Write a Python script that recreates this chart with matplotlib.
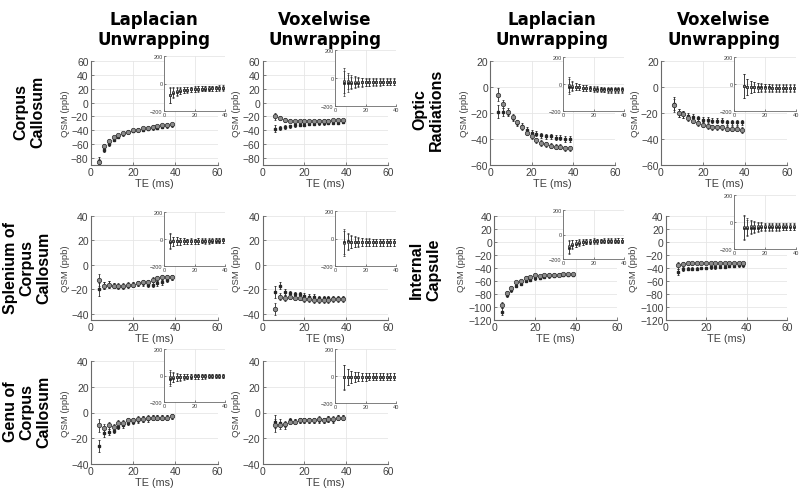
import numpy as np
import matplotlib
matplotlib.use("Agg")
import matplotlib.pyplot as plt

plt.rcParams["font.family"] = ["Liberation Sans", "DejaVu Sans"]

W, H = 800, 489

# ---------------- data ----------------
te_lap = [3.9, 6.2, 8.5, 10.8, 13.1, 15.4, 17.7, 20.0, 22.3, 24.6, 26.9, 29.2, 31.5, 33.8, 36.1, 38.4]
te_vox = te_lap[1:]

cc_lap_a = [-86, -62, -55, -50, -47, -44, -42, -40, -39, -37, -36, -35, -34, -33, -32, -31]
cc_lap_b = [-84, -68, -60, -54, -49, -46, -43, -41, -40, -39, -38, -37, -36, -35, -34, -33]
cc_vox_a = [-20, -22, -25, -26, -27, -27, -27, -27, -27, -26, -26, -26, -25, -25, -25]
cc_vox_b = [-38, -37, -35, -34, -33, -32, -32, -31, -31, -30, -30, -29, -29, -29, -28]

or_lap_a = [-6, -13, -19, -23, -27, -31, -35, -38, -41, -43, -44, -45, -46, -46, -47, -47]
or_lap_b = [-19, -19, -20, -24, -28, -30, -33, -35, -36, -37, -38, -38, -39, -39, -40, -40]
or_vox_a = [-14, -20, -21, -24, -26, -28, -29, -30, -31, -31, -31, -32, -32, -32, -33]
or_vox_b = [-13, -20, -21, -22, -23, -24, -25, -25, -26, -26, -26, -27, -27, -27, -27]

sp_lap_a = [-12, -17, -16, -17, -17, -17, -16, -16, -15, -14, -14, -12, -11, -10, -10, -10]
sp_lap_b = [-20, -17, -16, -17, -18, -18, -17, -16, -15, -15, -16, -16, -15, -14, -12, -10]
sp_vox_a = [-36, -26, -27, -26, -27, -27, -28, -28, -29, -29, -29, -29, -28, -28, -28]
sp_vox_b = [-22, -17, -22, -23, -24, -24, -25, -26, -26, -27, -27, -27, -27, -27, -27]

ic_lap_a = [-97, -78, -70, -62, -60, -55, -54, -51, -52, -51, -50, -50, -50, -49, -49, -49]
ic_lap_b = [-107, -82, -74, -67, -64, -60, -58, -56, -55, -54, -53, -52, -51, -51, -50, -50]
ic_vox_a = [-36, -34, -33, -33, -32, -32, -32, -32, -32, -32, -32, -32, -32, -32, -32]
ic_vox_b = [-46, -42, -41, -41, -41, -40, -40, -39, -39, -38, -38, -37, -37, -36, -36]

ge_lap_a = [-10, -12, -10, -11, -8, -8, -6, -6, -5, -5, -4, -4, -4, -4, -4, -3]
ge_lap_b = [-26, -16, -15, -14, -11, -10, -8, -7, -6, -5, -5, -4, -4, -4, -4, -3]
ge_vox_a = [-10, -10, -9, -7, -7, -6, -6, -6, -6, -5, -6, -5, -5, -4, -4]
ge_vox_b = [-7, -8, -10, -6, -7, -6, -6, -6, -6, -6, -6, -5, -6, -4, -4]

# error bars (main = standard error, inset = standard deviation)
err_lap = [5, 3, 2.5, 2, 2, 2, 2, 2, 2, 2, 2, 2, 2, 2, 2, 2]
err_vox = [5, 3, 2.5, 2, 2, 2, 2, 2, 2, 2, 2, 2, 2, 2, 2]
sd_lap = [55, 35, 28, 24, 22, 20, 20, 19, 19, 18, 18, 18, 18, 18, 18, 18]
sd_vox = [90, 60, 45, 38, 33, 30, 28, 27, 26, 25, 25, 24, 24, 24, 24]

col_headers = ["Laplacian\nUnwrapping", "Voxelwise\nUnwrapping", "Laplacian\nUnwrapping", "Voxelwise\nUnwrapping"]
row_labels_left = ["Corpus\nCallosum", "Splenium of\nCorpus\nCallosum", "Genu of\nCorpus\nCallosum"]
row_labels_right = ["Optic\nRadiations", "Internal\nCapsule"]

# ---------------- layout helpers ----------------
fig = plt.figure(figsize=(W / 100, H / 100), dpi=100)

def rect(x0, y0, x1, y1):
    return [x0 / W, 1 - y1 / H, (x1 - x0) / W, (y1 - y0) / H]

AX_C = "#6a6a6a"
TXT_C = "#404040"
GRID_C = "#e6e6e6"

def style(ax, fs, lw=0.8):
    for s in ["top", "right"]:
        ax.spines[s].set_visible(False)
    for s in ["left", "bottom"]:
        ax.spines[s].set_color(AX_C)
        ax.spines[s].set_linewidth(lw)
    ax.tick_params(direction="in", length=2, width=0.6, colors=AX_C,
                   labelsize=fs, labelcolor=TXT_C, pad=1.5)
    ax.grid(True, color=GRID_C, linewidth=0.6)
    ax.set_axisbelow(True)

def draw(ax, te, a, b, ea, eb, ms_a=3.2, ms_b=2.0, lw=0.6, cap=1.0):
    ax.errorbar(te, b, yerr=eb, fmt="s", ms=ms_b, color="#262626", mfc="#262626",
                mec="#262626", ecolor="#262626", elinewidth=lw, capsize=cap, capthick=lw, zorder=3)
    ax.errorbar(te, a, yerr=ea, fmt="o", ms=ms_a, color="#262626", mfc="#8c8c8c",
                mec="#2a2a2a", mew=0.5, ecolor="#262626", elinewidth=lw, capsize=cap,
                capthick=lw, zorder=4)

# main axes pixel boxes: (x0, y0, x1, y1)
panels = [
    # main box, te, a, b, ylim, yticks, inset box
    ((90.7, 62, 217.7, 166), te_lap, cc_lap_a, cc_lap_b, (-90, 60), range(-80, 61, 20), (164, 57, 225, 112)),
    ((262.5, 62, 388, 166), te_vox, cc_vox_a, cc_vox_b, (-90, 60), range(-80, 61, 20), (335, 51, 396, 107)),
    ((490, 62, 615, 166), te_lap, or_lap_a, or_lap_b, (-60, 20), range(-60, 21, 20), (563, 58, 624, 112)),
    ((660.7, 62, 787, 166), te_vox, or_vox_a, or_vox_b, (-60, 20), range(-60, 21, 20), (734, 58, 796, 112)),
    ((90.7, 217, 217.7, 321), te_lap, sp_lap_a, sp_lap_b, (-45, 40), range(-40, 41, 20), (164, 213, 225, 267)),
    ((262.5, 217, 388, 321), te_vox, sp_vox_a, sp_vox_b, (-45, 40), range(-40, 41, 20), (335, 212, 396, 267)),
    ((494, 217, 617, 321), te_lap, ic_lap_a, ic_lap_b, (-120, 40), range(-120, 41, 20), (563, 211, 624, 260)),
    ((665.7, 217, 787, 321), te_vox, ic_vox_a, ic_vox_b, (-120, 40), range(-120, 41, 20), (734, 196, 796, 250)),
    ((90.7, 362, 217.7, 465), te_lap, ge_lap_a, ge_lap_b, (-40, 40), range(-40, 41, 20), (164, 350, 225, 403)),
    ((262.5, 362, 388, 465), te_vox, ge_vox_a, ge_vox_b, (-40, 40), range(-40, 41, 20), (335, 350, 396, 404)),
]

for box, te, a, b, ylim, yt, ins in panels:
    ax = fig.add_axes(rect(*box))
    style(ax, 7.5)
    lap = len(te) == len(te_lap)
    err = err_lap if lap else err_vox
    sd = sd_lap if lap else sd_vox
    draw(ax, te, a, b, err, err)
    ax.set_xlim(0, 60)
    ax.set_xticks([0, 20, 40, 60])
    ax.set_ylim(*ylim)
    ax.set_yticks(list(yt))
    ax.set_xlabel("TE (ms)", fontsize=7.8, color=TXT_C, labelpad=1)
    ax.set_ylabel("QSM (ppb)", fontsize=6.8, color=TXT_C, labelpad=1)
    if ylim[0] == -120:
        ax.yaxis.set_label_coords(-0.225, 0.5)

    iax = fig.add_axes(rect(*ins))
    style(iax, 4.0, lw=0.6)
    iax.set_facecolor("white")
    draw(iax, te, a, b, sd, sd, ms_a=1.6, ms_b=1.1, lw=0.45, cap=0.6)
    iax.set_xlim(0, 40)
    iax.set_xticks([0, 20, 40])
    iax.set_ylim(-200, 200)
    iax.set_yticks([-200, 0, 200])
    iax.tick_params(length=1.5, pad=1)

# column headers
for cx, txt in zip([154, 325, 552, 724], col_headers):
    fig.text(cx / W, 1 - 30 / H, txt, ha="center", va="center",
             fontsize=12, fontweight="bold", family="DejaVu Sans", linespacing=1.2)

# row labels
rl_font = dict(fontsize=11.5, fontweight="bold", family="Liberation Sans",
               rotation=90, ha="center", va="center", linespacing=1.15, multialignment="center")
fig.text(29 / W, 1 - 112 / H, row_labels_left[0], **rl_font)
fig.text(27 / W, 1 - 268 / H, row_labels_left[1], **rl_font)
fig.text(27 / W, 1 - 412 / H, row_labels_left[2], **rl_font)
fig.text(428 / W, 1 - 110 / H, row_labels_right[0], **rl_font)
fig.text(425 / W, 1 - 270 / H, row_labels_right[1], **rl_font)

fig.savefig("out.png", dpi=100)
